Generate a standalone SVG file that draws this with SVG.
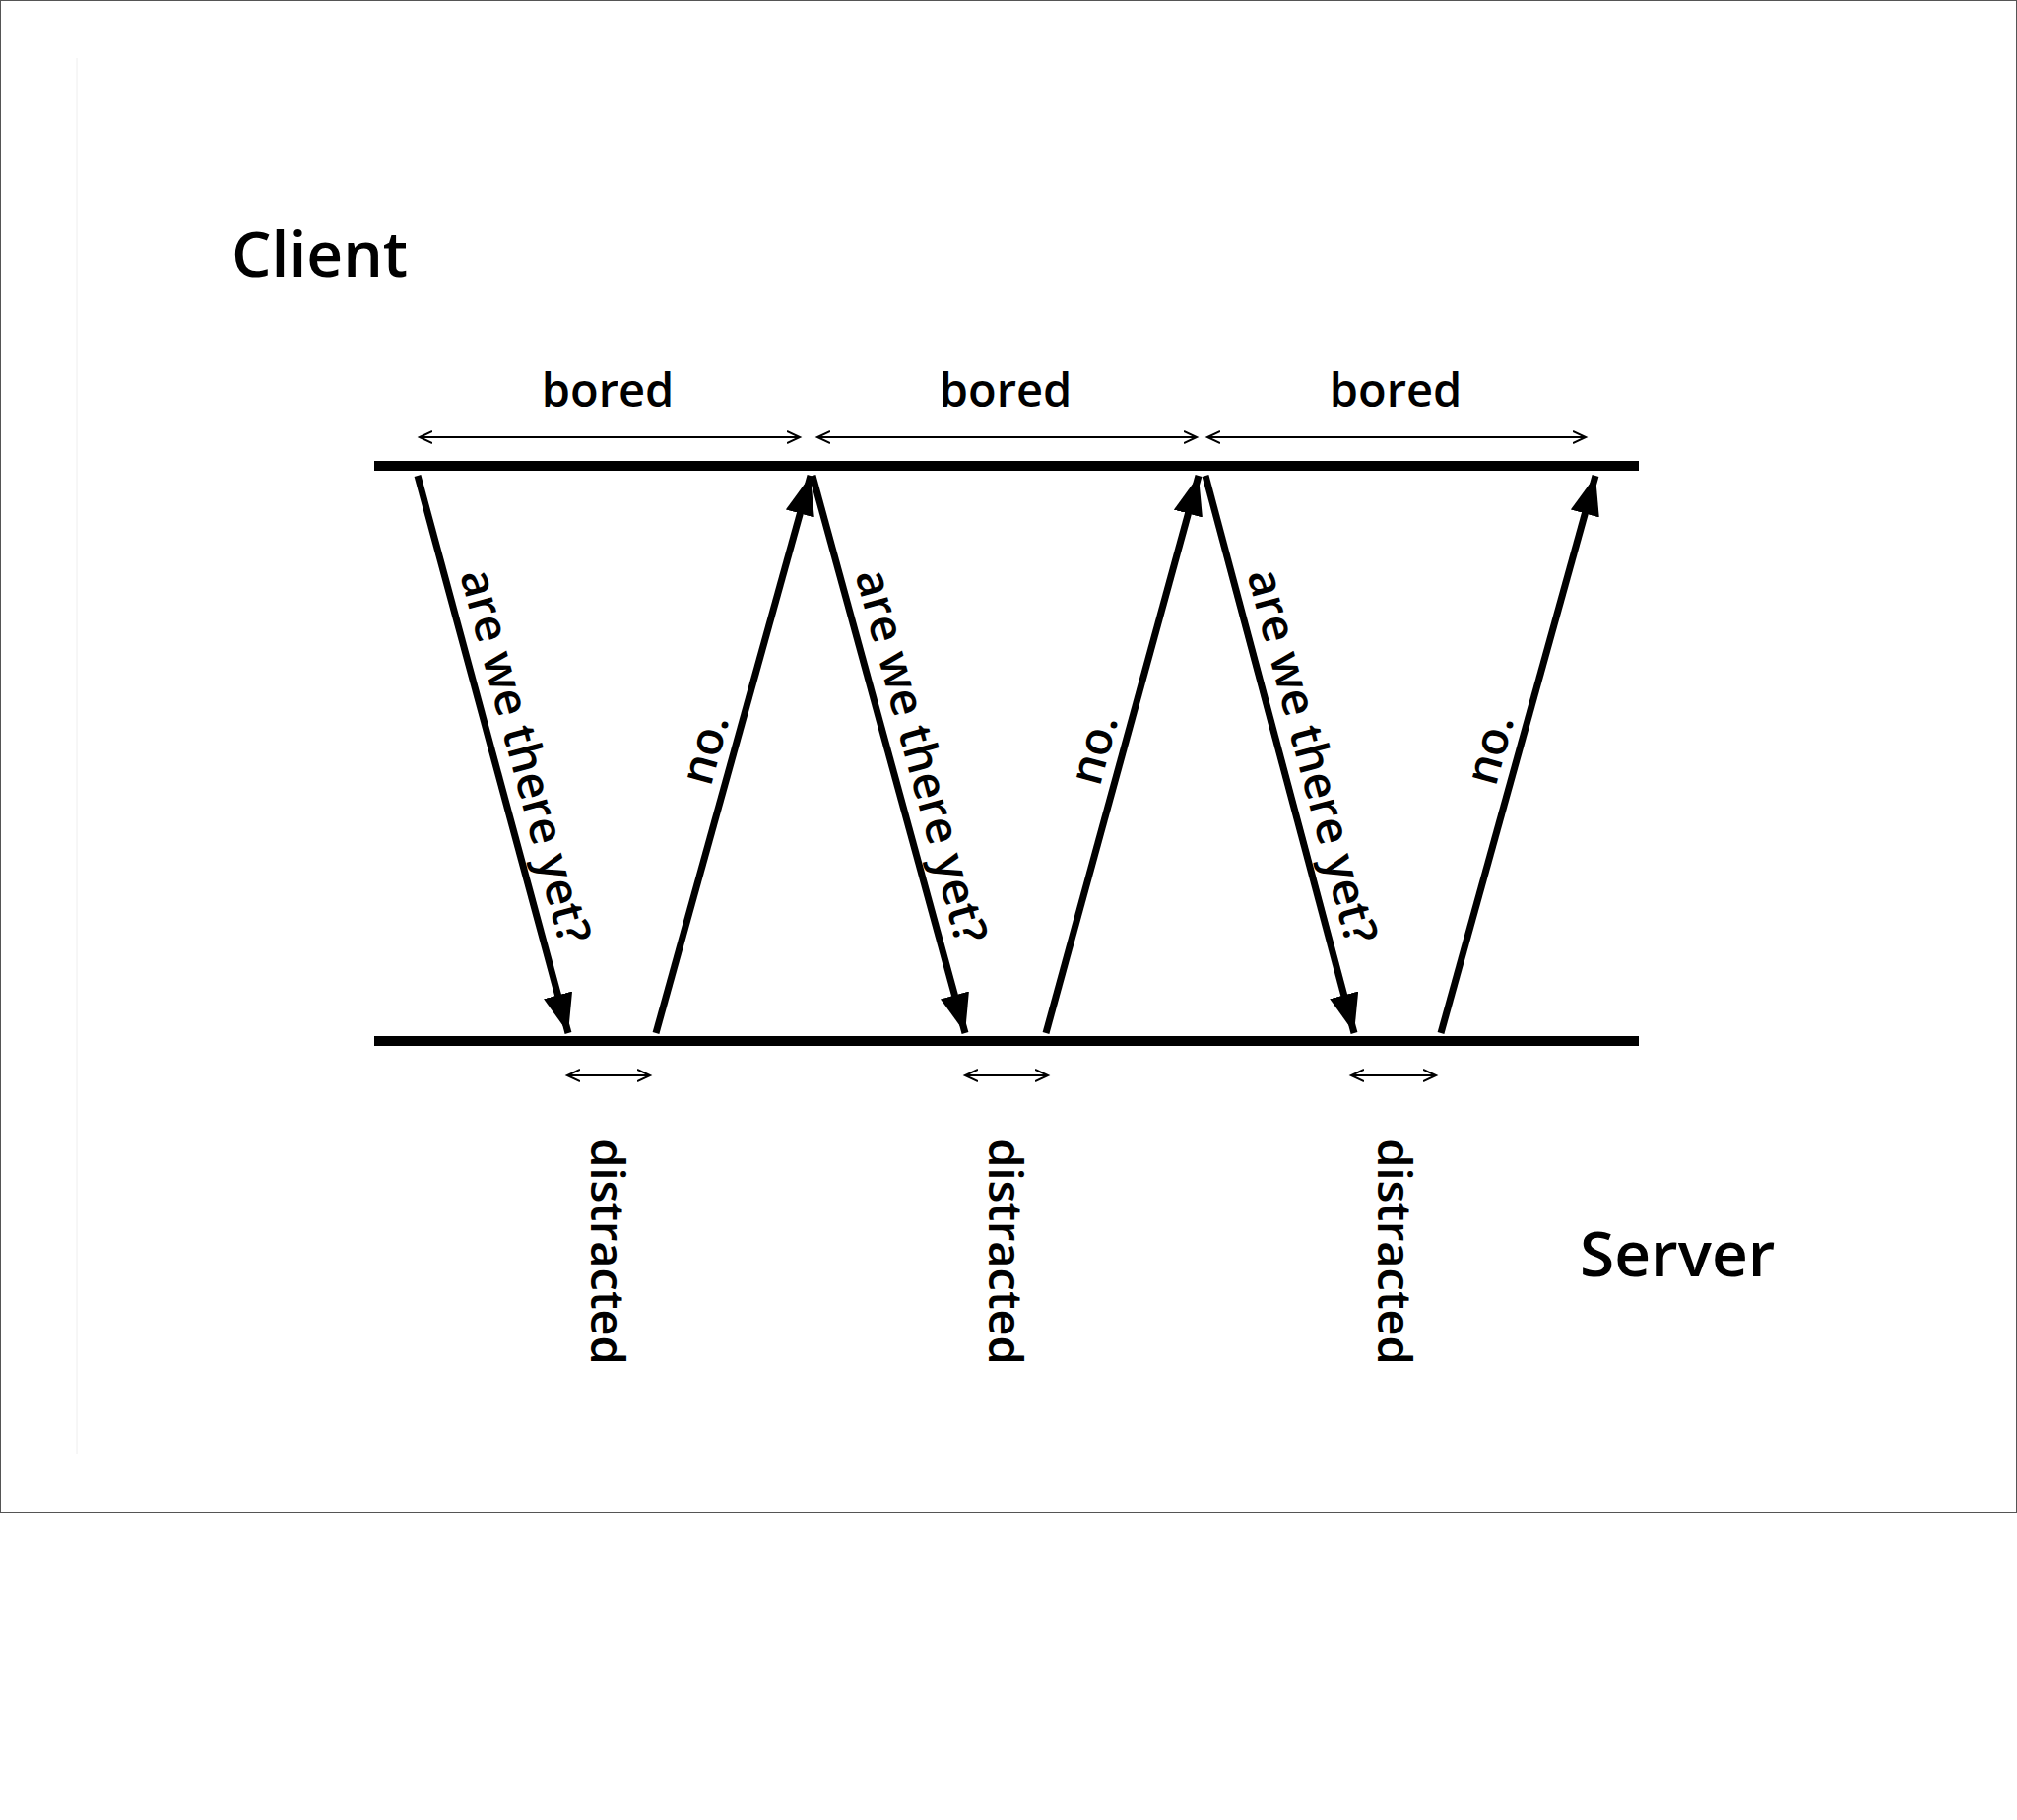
<svg xmlns="http://www.w3.org/2000/svg" width="2048" height="1848" viewBox="0 0 2048 1848">
<defs>
<style>
text{font-family:"Open Sans","Liberation Sans",sans-serif;font-weight:600;fill:#000}
.t{font-size:47px}
.h{font-size:64px}
.big{stroke:#000;stroke-width:7;fill:none;marker-end:url(#ah)}
.sm{stroke:#000;stroke-width:2;fill:none;marker-start:url(#sa);marker-end:url(#sa)}
.tl{stroke:#000;stroke-width:10}
</style>
<marker id="ah" markerUnits="userSpaceOnUse" markerWidth="44" markerHeight="32" refX="40" refY="15" orient="auto"><path d="M0,0 L40,15 L0,30 Z" fill="#000"/></marker>
<marker id="sa" markerUnits="userSpaceOnUse" markerWidth="16" markerHeight="14" refX="13" refY="7" orient="auto-start-reverse"><path d="M0,1 L13,7 L0,13" fill="none" stroke="#000" stroke-width="2"/></marker>
</defs>
<rect width="2048" height="1848" fill="#fff"/>
<rect x="0.5" y="0.5" width="2047" height="1535" fill="none" stroke="#555" stroke-width="1"/>
<line x1="78" y1="59" x2="78" y2="1476" stroke="#eee" stroke-width="1"/>
<g id="client"><text class="h" x="235" y="281">Client</text><line class="tl" x1="380" y1="473" x2="1664" y2="473"/></g>
<g id="server"><text class="h" x="1604" y="1296">Server</text><line class="tl" x1="380" y1="1057" x2="1664" y2="1057"/></g>
<g id="connectors">
<line class="sm" x1="426" y1="444" x2="812" y2="444"/>
<line class="sm" x1="830" y1="444" x2="1215" y2="444"/>
<line class="sm" x1="1226" y1="444" x2="1610" y2="444"/>
<line class="sm" x1="576" y1="1092" x2="660" y2="1092"/>
<line class="sm" x1="980" y1="1092" x2="1064" y2="1092"/>
<line class="sm" x1="1372" y1="1092" x2="1458" y2="1092"/>
<line class="big" x1="424" y1="483" x2="577" y2="1049"/>
<line class="big" x1="825" y1="483" x2="980" y2="1049"/>
<line class="big" x1="1224" y1="483" x2="1375" y2="1049"/>
<line class="big" x1="666" y1="1049" x2="823" y2="483"/>
<line class="big" x1="1062" y1="1049" x2="1217" y2="483"/>
<line class="big" x1="1463" y1="1049" x2="1620" y2="483"/>
</g>
<g id="labels">
<text class="t" x="617" y="413" text-anchor="middle">bored</text>
<text class="t" x="1021" y="413" text-anchor="middle">bored</text>
<text class="t" x="1417" y="413" text-anchor="middle">bored</text>
<text class="t" text-anchor="middle" transform="translate(518,772) rotate(74.9)">are we there yet?</text>
<text class="t" text-anchor="middle" transform="translate(920,772) rotate(74.7)">are we there yet?</text>
<text class="t" text-anchor="middle" transform="translate(1317,772) rotate(75.0)">are we there yet?</text>
<text class="t" text-anchor="middle" transform="translate(731,765) rotate(-74.5)">no.</text>
<text class="t" text-anchor="middle" transform="translate(1126,765) rotate(-74.7)">no.</text>
<text class="t" text-anchor="middle" transform="translate(1528,765) rotate(-74.5)">no.</text>
<text class="t" text-anchor="middle" transform="translate(600,1271) rotate(90)">distracted</text>
<text class="t" text-anchor="middle" transform="translate(1004,1271) rotate(90)">distracted</text>
<text class="t" text-anchor="middle" transform="translate(1399,1271) rotate(90)">distracted</text>
</g>
</svg>
